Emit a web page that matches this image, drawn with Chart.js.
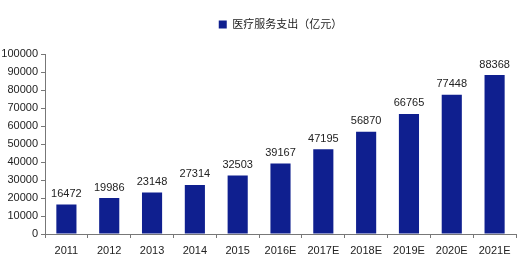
<!DOCTYPE html>
<html><head><meta charset="utf-8">
<script src="https://cdn.jsdelivr.net/npm/chart.js@4/dist/chart.umd.min.js"></script>
<style>html,body{margin:0;padding:0;background:#fff}#wrap{width:520px;height:271px}</style>
</head><body><div id="wrap"><canvas id="c"></canvas></div>
<script>
const categories = ['2011','2012','2013','2014','2015','2016E','2017E','2018E','2019E','2020E','2021E'];
const seriesName = '医疗服务支出（亿元）';
const values = [16472,19986,23148,27314,32503,39167,47195,56870,66765,77448,88368];
const yTicks = [0,10000,20000,30000,40000,50000,60000,70000,80000,90000,100000];

const FONT = '"Liberation Sans", "Noto Sans CJK SC", Arial, sans-serif';
const BAR = '#0f1f8f';

const labelPlugin = {
  id: 'labels',
  afterDatasetsDraw(chart) {
    const ctx = chart.ctx;
    const meta = chart.getDatasetMeta(0);
    ctx.save();
    ctx.font = '11px ' + FONT;
    ctx.fillStyle = '#222';
    ctx.textAlign = 'center';
    ctx.textBaseline = 'bottom';
    meta.data.forEach((bar, i) => {
      ctx.fillText(String(values[i]), bar.x, bar.y - 5);
    });
    ctx.restore();
  }
};

new Chart(document.getElementById('c'), {
  type: 'bar',
  data: {
    labels: categories,
    datasets: [{
      label: seriesName,
      data: values,
      backgroundColor: BAR,
      borderColor: BAR,
      borderWidth: 0,
      categoryPercentage: 1,
      barPercentage: 0.47
    }]
  },
  options: {
    responsive: true,
    maintainAspectRatio: false,
    animation: false,
    layout: { padding: { left: 0, right: 4, top: 13, bottom: 0 } },
    plugins: {
      legend: {
        position: 'top',
        fullSize: false,
        weight: 5000,
        labels: {
          font: { size: 11, family: FONT },
          color: '#222',
          boxWidth: 8,
          boxHeight: 8,
          padding: 6
        }
      },
      title: {
        display: true,
        text: ' ',
        font: { size: 1 },
        padding: { top: 0, bottom: 13 }
      },
      tooltip: { enabled: false }
    },
    scales: {
      x: {
        grid: { display: true, drawOnChartArea: false, offset: true, tickLength: 4, color: '#777' },
        border: { color: '#777' },
        ticks: { font: { size: 11, family: FONT }, color: '#222', padding: 6 },
        afterFit(s) { s.height = 37; }
      },
      y: {
        min: 0, max: 100000,
        afterBuildTicks(s) { s.ticks = yTicks.map(v => ({ value: v })); },
        grid: { display: true, drawOnChartArea: false, tickLength: 4, color: '#777' },
        border: { color: '#777' },
        ticks: { font: { size: 11, family: FONT }, color: '#222', padding: 3, callback: v => String(v) },
        afterFit(s) { s.width = 45; }
      }
    }
  },
  plugins: [labelPlugin]
});
</script></body></html>
